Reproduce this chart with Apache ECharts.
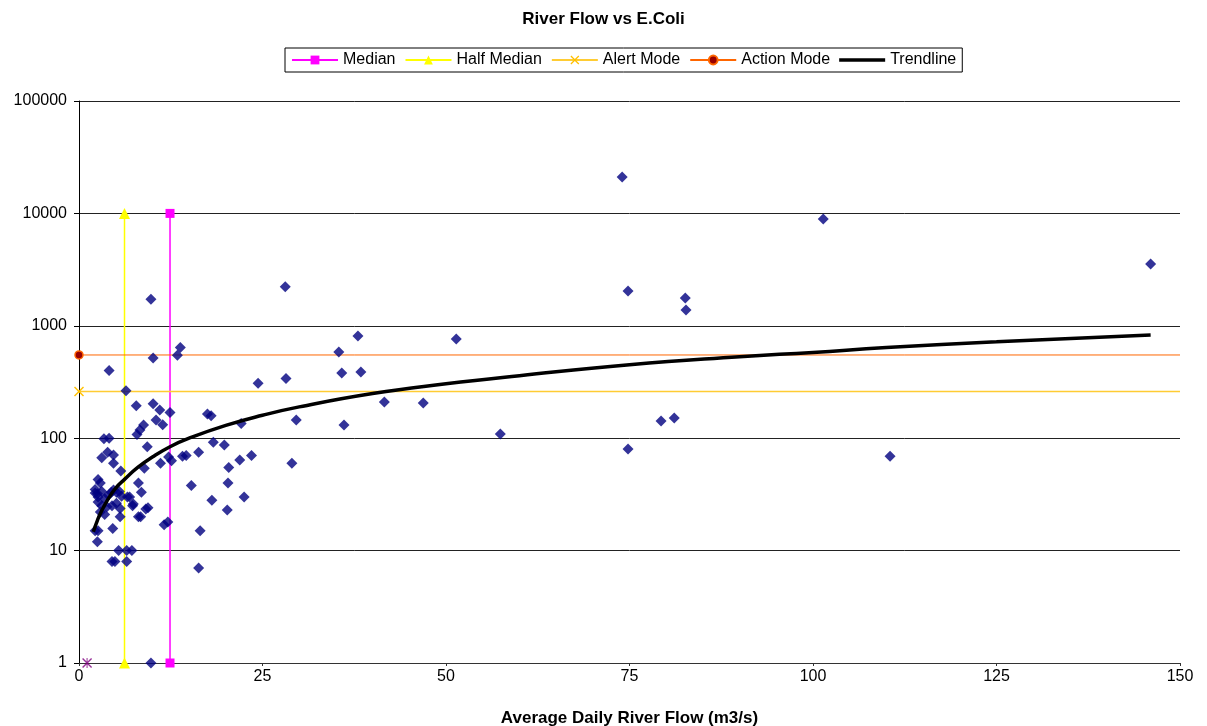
<!DOCTYPE html>
<html>
<head>
<meta charset="utf-8">
<script src="https://cdn.jsdelivr.net/npm/echarts@6/dist/echarts.min.js"></script>
<style>
html,body{margin:0;padding:0;background:#fff;}
#chart{width:1207px;height:726px;}
</style>
</head>
<body>
<div id="chart"></div>
<script>
// ---- data ----
const titleText = 'River Flow vs E.Coli';
const xAxisName = 'Average Daily River Flow (m3/s)';
const xTicks = [0, 25, 50, 75, 100, 125, 150];
const yTicks = [1, 10, 100, 1000, 10000, 100000];

// [flow m3/s, E.coli]
const samples = [
  [74.0, 21100], [101.4, 8900], [146.0, 3550], [74.8, 2040], [82.6, 1770], [82.7, 1380],
  [79.3, 142], [81.1, 151], [74.8, 80], [110.5, 69], [57.4, 109], [51.4, 763],
  [46.9, 206], [41.6, 210], [38.0, 811], [38.4, 388], [35.4, 585], [35.8, 380],
  [36.1, 131], [29.6, 145], [29.0, 60], [28.1, 2220], [28.2, 340], [24.4, 308],
  [23.5, 70], [22.5, 30], [21.9, 64], [22.1, 135], [20.4, 55], [20.3, 40],
  [20.2, 23], [19.8, 87], [18.3, 92], [18.1, 28], [18.0, 158], [17.5, 164],
  [16.3, 75], [16.5, 15], [16.3, 7], [15.3, 38], [14.6, 70], [14.1, 69],
  [13.8, 640], [13.4, 548], [12.4, 169], [12.6, 63], [12.2, 68], [12.1, 18],
  [11.6, 17], [11.1, 60], [11.4, 132], [11.0, 178], [10.5, 145], [10.1, 203],
  [10.1, 516], [9.8, 1720], [9.8, 1], [9.3, 84], [9.4, 24], [9.1, 23.5],
  [8.8, 131], [8.3, 118], [7.9, 108], [7.8, 194], [8.9, 54], [8.5, 33],
  [8.1, 40], [8.1, 20], [8.4, 20], [7.4, 26], [6.9, 30], [7.3, 25],
  [7.2, 10], [6.5, 10], [6.5, 8], [6.4, 264], [5.7, 51], [5.6, 20],
  [5.4, 10], [4.5, 8], [4.9, 8], [4.1, 400], [4.1, 100], [3.4, 99],
  [3.9, 75], [4.7, 71], [3.1, 67], [4.7, 60], [4.6, 15.7], [2.6, 43],
  [2.9, 40], [2.2, 35], [2.5, 32], [4.4, 33], [5.1, 33], [2.2, 15],
  [2.6, 15], [2.5, 12], [2.9, 22], [3.5, 21], [6.6, 30],
  [2.2, 32.6], [3.1, 33.5], [2.6, 30], [3.5, 29], [4.0, 31], [4.7, 34.6],
  [5.5, 33.5], [5.8, 30.5], [2.6, 27], [3.1, 25], [3.8, 24.5], [4.5, 25],
  [5.1, 26.4], [5.6, 23.7]
];

const medianLine = [[12.4, 1], [12.4, 10000]];
const halfMedianLine = [[6.2, 1], [6.2, 10000]];
const alertLine = [[0, 260], [150, 260]];
const actionLine = [[0, 550], [150, 550]];
const extraPoint = [[1.1, 1]];

const trendX = [1.95, 2.5, 3, 4, 5, 6.2, 8, 10, 12.4, 15, 20, 25, 30, 40, 50, 60, 75, 90, 100, 110, 125, 146];
const trendY = [14.7, 18.5, 22, 29, 36, 43, 55, 68, 84, 100, 130, 160, 190, 250, 305, 360, 450, 530, 580, 640, 720, 830];

// ---- chart ----
const crossPath = 'path://M0,1L1,0L5,4L9,0L10,1L6,5L10,9L9,10L5,6L1,10L0,9L4,5Z';
const starPath = 'path://M0,1L1,0L4.5,3.5L4.5,0L5.5,0L5.5,3.5L9,0L10,1L6,5L10,9L9,10L5.5,6.5L5.5,10L4.5,10L4.5,6.5L1,10L0,9L4,5Z';
const thickLinePath = 'path://M0,0L46,0L46,3.5L0,3.5Z';
const font = '"Liberation Sans", Arial, sans-serif';

const chart = echarts.init(document.getElementById('chart'));
chart.setOption({
  backgroundColor: '#fff',
  animation: false,
  title: {
    text: titleText, left: 'center', top: 6,
    textStyle: {fontFamily: font, fontSize: 17, fontWeight: 'bold', color: '#000'}
  },
  legend: {
    data: ['Median', 'Half Median', 'Alert Mode', 'Action Mode', {name: 'Trendline', icon: thickLinePath}],
    top: 48, left: 285,
    borderColor: '#000', borderWidth: 1, padding: [4, 6],
    itemWidth: 46, itemHeight: 11, itemGap: 9,
    textStyle: {fontFamily: font, fontSize: 16, color: '#000'}
  },
  grid: {left: 79, right: 27, top: 101, bottom: 63, containLabel: false, outerBoundsMode: 'none'},
  xAxis: {
    type: 'value', min: 0, max: 150, interval: 25,
    name: xAxisName, nameLocation: 'middle', nameGap: 47,
    nameTextStyle: {fontFamily: font, fontSize: 17, fontWeight: 'bold', color: '#000'},
    axisLine: {show: true, onZero: false, lineStyle: {color: '#333', width: 1}},
    axisTick: {show: true, length: 3, lineStyle: {color: '#333'}},
    axisLabel: {margin: 6, fontFamily: font, fontSize: 16, color: '#000',
      formatter: v => xTicks.includes(v) ? String(v) : ''},
    splitLine: {show: false}
  },
  yAxis: {
    type: 'log', logBase: 10, min: 1, max: 100000,
    axisLine: {show: true, lineStyle: {color: '#000', width: 1}},
    axisTick: {show: true, length: 5, lineStyle: {color: '#000'}},
    axisLabel: {margin: 12, fontFamily: font, fontSize: 16, color: '#000',
      formatter: v => yTicks.includes(Math.round(v)) ? String(Math.round(v)) : ''},
    splitLine: {show: true, lineStyle: {color: '#222', width: 1}},
    minorTick: {show: false}
  },
  series: [
    {
      name: 'Half Median', type: 'line', data: halfMedianLine,
      symbol: 'triangle', symbolSize: 11, z: 3,
      lineStyle: {color: '#FFFF00', width: 1.5},
      itemStyle: {color: '#FFFF00'}
    },
    {
      name: 'Median', type: 'line', data: medianLine,
      symbol: 'rect', symbolSize: 9, z: 3,
      lineStyle: {color: '#FF00FF', width: 1.5},
      itemStyle: {color: '#FF00FF'}
    },
    {
      name: 'Alert Mode', type: 'line',
      data: [{value: alertLine[0]}, {value: alertLine[1], symbol: 'none'}],
      symbol: crossPath, symbolSize: 10, z: 3,
      lineStyle: {color: '#FFCC33', width: 1.5},
      itemStyle: {color: '#FFC000'}
    },
    {
      name: 'Action Mode', type: 'line',
      data: [{value: actionLine[0]}, {value: actionLine[1], symbol: 'none'}],
      symbol: 'circle', symbolSize: 8, z: 3,
      lineStyle: {color: '#FF6600', width: 1},
      itemStyle: {color: '#990000', borderColor: '#FF6600', borderWidth: 1.5}
    },
    {
      name: 'Flow vs E.coli', type: 'scatter', data: samples,
      symbol: 'diamond', symbolSize: 11, z: 4,
      itemStyle: {color: '#000080'}
    },
    {
      name: 'Other', type: 'scatter', data: extraPoint,
      symbol: starPath, symbolSize: 10, z: 4,
      itemStyle: {color: '#800080'}
    },
    {
      name: 'Trendline', type: 'line',
      data: trendX.map((x, i) => [x, trendY[i]]),
      smooth: true, symbol: 'none', showSymbol: false, z: 5,
      lineStyle: {color: '#000', width: 3.5},
      itemStyle: {color: '#000'}
    }
  ]
});
</script>
</body>
</html>
